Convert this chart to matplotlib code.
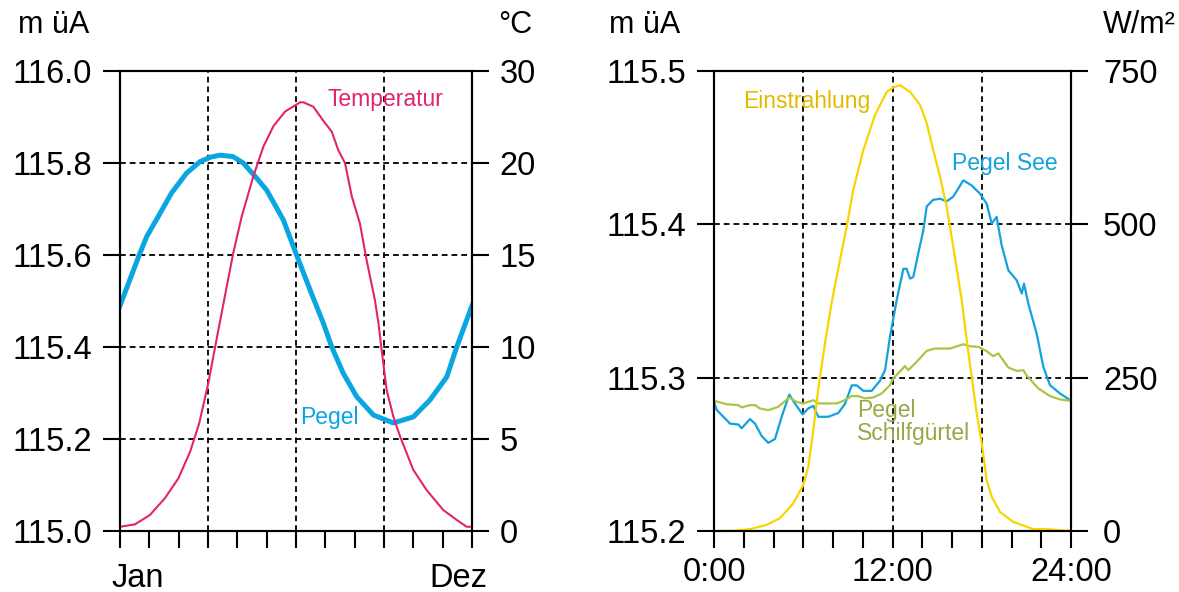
import matplotlib
matplotlib.use("Agg")
import matplotlib.pyplot as plt
from matplotlib.ticker import FixedLocator, FixedFormatter

plt.rcParams['font.family'] = ['Liberation Sans', 'DejaVu Sans']

# --- Jahresgang (links) ---
pegel_monat = [0, 0.68, 0.91, 1.36, 1.76, 2.27, 2.73, 3.1, 3.41, 3.85, 4.2, 4.66, 5.0,
               5.57, 6.02, 6.48, 6.93, 7.22, 7.61, 8.07, 8.64, 9.32, 10.0, 10.57, 11.14,
               11.48, 12]
pegel = [115.49, 115.604, 115.64, 115.69, 115.735, 115.778, 115.803, 115.813, 115.817,
         115.814, 115.80, 115.767, 115.741, 115.676, 115.60, 115.524, 115.452, 115.40,
         115.343, 115.292, 115.252, 115.235, 115.248, 115.285, 115.335, 115.40, 115.49]

temp_monat = [0, 0.51, 1.02, 1.53, 1.99, 2.39, 2.7, 3.01, 3.35, 3.58, 3.86, 4.15, 4.55,
              4.89, 5.23, 5.63, 6.14, 6.25, 6.59, 6.93, 7.22, 7.44, 7.67, 7.9, 8.18, 8.41,
              8.69, 8.81, 8.92, 9.09, 9.32, 9.55, 10.0, 10.45, 11.02, 11.48, 11.82, 12]
temperatur = [0.23, 0.36, 0.87, 1.78, 2.86, 4.31, 5.85, 8.03, 10.9, 12.8, 15.1, 17.1, 19.3,
              20.9, 22.0, 22.8, 23.3, 23.3, 23.06, 22.3, 21.7, 20.7, 20.0, 18.2, 16.7, 14.7,
              12.55, 11.3, 9.84, 7.66, 6.21, 5.13, 3.32, 2.23, 1.14, 0.6, 0.23, 0.23]

pegel_ticks = [115.0, 115.2, 115.4, 115.6, 115.8, 116.0]
temp_ticks = [0, 5, 10, 15, 20, 25]
temp_labels = ['0', '5', '10', '15', '20', '30']

# --- Tagesgang (rechts) ---
sonne_h = [0, 1.3, 2.42, 3.54, 4.44, 5.33, 6.0, 6.34, 6.68, 7.0, 7.46, 7.9, 8.47, 8.92,
           9.36, 10.04, 10.82, 11.61, 12.05, 12.5, 13.18, 13.85, 14.3, 14.74, 15.19, 15.64,
           16.08, 16.65, 16.99, 17.32, 17.66, 18.0, 18.33, 18.67, 19.23, 20.1, 21.46, 22.4, 24]
einstrahlung = [0, 0.5, 3, 10, 21, 45, 75, 105, 165, 230, 306, 371, 442, 496, 556, 621, 678,
                716, 723, 727, 716, 695, 665, 621, 578, 529, 464, 377, 311, 252, 192, 143,
                83, 56, 31, 15, 3, 3, 0]

see_h = [0, 0.18, 1.08, 1.63, 1.86, 2.42, 2.76, 3.2, 3.65, 4.1, 4.55, 5.06, 5.45, 5.96,
         6.34, 6.68, 7.01, 7.69, 8.36, 8.81, 9.26, 9.59, 10.04, 10.6, 11.16, 11.5, 11.83,
         12.28, 12.73, 12.95, 13.18, 13.4, 13.73, 14.07, 14.3, 14.74, 15.19, 15.64, 16.08,
         16.76, 17.32, 17.88, 18.33, 18.67, 19.0, 19.34, 19.79, 20.35, 20.69, 20.84, 21.13,
         21.69, 22.14, 22.59, 23.26, 24]
pegel_see = [115.284, 115.279, 115.270, 115.2695, 115.267, 115.273, 115.270, 115.262,
             115.2575, 115.260, 115.2745, 115.289, 115.283, 115.276, 115.280, 115.2816,
             115.2745, 115.2745, 115.277, 115.283, 115.295, 115.295, 115.2914, 115.2914,
             115.298, 115.305, 115.3266, 115.3505, 115.371, 115.371, 115.3646, 115.3657,
             115.381, 115.396, 115.4117, 115.416, 115.4167, 115.415, 115.418, 115.4287,
             115.4254, 115.420, 115.4135, 115.4005, 115.4048, 115.3863, 115.370, 115.3635,
             115.3549, 115.3614, 115.3483, 115.3288, 115.307, 115.2951, 115.2897, 115.285]

schilf_h = [0, 0.85, 1.63, 1.86, 2.42, 2.76, 3.09, 3.65, 4.32, 5.06, 5.56, 6.0, 6.68, 7.0,
            8.25, 8.7, 9.26, 9.7, 10.15, 10.71, 11.27, 11.83, 12.05, 12.84, 13.06, 13.62,
            14.3, 14.86, 15.87, 16.76, 17.21, 17.77, 18.33, 18.77, 19.11, 19.79, 20.35, 20.8,
            21.0, 21.8, 22.59, 23.26, 24]
pegel_schilf = [115.2849, 115.2827, 115.2821, 115.2806, 115.2821, 115.2821, 115.2799,
                115.2788, 115.281, 115.2871, 115.2842, 115.2832, 115.2853, 115.2832,
                115.2832, 115.2849, 115.288, 115.288, 115.2865, 115.2871, 115.2897,
                115.2951, 115.2995, 115.3075, 115.3049, 115.3103, 115.3175, 115.319,
                115.319, 115.3218, 115.3205, 115.3201, 115.3173, 115.314, 115.3158,
                115.3066, 115.3044, 115.3049, 115.3016, 115.293, 115.288, 115.2858, 115.2849]

see_ticks = [115.2, 115.3, 115.4, 115.5]
watt_ticks = [0, 250, 500, 750]

W, H = 1179, 592
FS = 23.5      # tick labels
UFS = 22       # unit labels
LFS = 16.5     # curve labels
dash = (0, (3.2, 2.2))

fig = plt.figure(figsize=(W / 100, H / 100), dpi=100)


def setup(ax, axr):
    for a in (ax, axr):
        for sp in a.spines.values():
            sp.set_linewidth(1.5)
    ax.tick_params(which='both', direction='out', length=12, width=1.5, labelsize=FS)
    axr.tick_params(axis='y', direction='out', length=12, width=1.5, labelsize=FS)
    ax.grid(True, which='major', color='black', linestyle=dash, linewidth=1.3)
    ax.set_axisbelow(True)


# ---------------- links ----------------
ax1 = fig.add_axes([120 / W, 1 - 531 / H, 352 / W, 460 / H])
ax1r = ax1.twinx()
setup(ax1, ax1r)

ax1.plot(pegel_monat, pegel, color='#0AA6E2', lw=3.6, solid_joinstyle='round')
ax1r.plot(temp_monat, temperatur, color='#E3236F', lw=1.5)

ax1.set_xlim(0, 12)
ax1.set_ylim(115.0, 116.0)
ax1r.set_ylim(0, 25)
ax1.xaxis.set_major_locator(FixedLocator([0, 3, 6, 9, 12]))
ax1.xaxis.set_minor_locator(FixedLocator(range(13)))
ax1.set_xticklabels([])
ax1.yaxis.set_major_locator(FixedLocator(pegel_ticks))
ax1.set_yticklabels(['%.1f' % v for v in pegel_ticks])
ax1.tick_params(axis='y', pad=8)
ax1r.yaxis.set_major_locator(FixedLocator(temp_ticks))
ax1r.yaxis.set_major_formatter(FixedFormatter(temp_labels))
ax1r.tick_params(axis='y', pad=8)

ax1.annotate('Jan', xy=(0, 0), xycoords=('data', 'axes fraction'), xytext=(-6, -40),
             textcoords='offset points', ha='left', va='baseline', fontsize=FS)
ax1.annotate('Dez', xy=(12, 0), xycoords=('data', 'axes fraction'), xytext=(11, -40),
             textcoords='offset points', ha='right', va='baseline', fontsize=FS)

ax1.text(7.09, 115.939, 'Temperatur', color='#E3236F', fontsize=LFS, va='center', ha='left')
ax1.text(6.14, 115.246, 'Pegel', color='#0AA6E2', fontsize=LFS, va='center', ha='left')

fig.text(18 / W, 1 - 25 / H, 'm üA', fontsize=UFS, va='center', ha='left')
fig.text(498 / W, 1 - 25 / H, '°C', fontsize=UFS, va='center', ha='left')

# ---------------- rechts ----------------
ax2 = fig.add_axes([714 / W, 1 - 531 / H, 357 / W, 460 / H])
ax2r = ax2.twinx()
setup(ax2, ax2r)

ax2.plot(see_h, pegel_see, color='#12A2DF', lw=1.6)
ax2.plot(schilf_h, pegel_schilf, color='#AAC447', lw=1.6)
ax2r.plot(sonne_h, einstrahlung, color='#F8D500', lw=1.6)

ax2.set_xlim(0, 24)
ax2.set_ylim(115.2, 115.5)
ax2r.set_ylim(0, 750)
ax2.xaxis.set_major_locator(FixedLocator([0, 6, 12, 18, 24]))
ax2.xaxis.set_minor_locator(FixedLocator(range(0, 25, 2)))
ax2.set_xticklabels(['0:00', '', '12:00', '', '24:00'])
ax2.tick_params(axis='x', pad=7)
ax2.yaxis.set_major_locator(FixedLocator(see_ticks))
ax2.set_yticklabels(['%.1f' % v for v in see_ticks])
ax2.tick_params(axis='y', pad=8)
ax2r.yaxis.set_major_locator(FixedLocator(watt_ticks))
ax2r.tick_params(axis='y', pad=11)

ax2.text(1.95, 115.480, 'Einstrahlung', color='#E2BA00', fontsize=LFS, va='center', ha='left')
ax2.text(16.0, 115.4397, 'Pegel See', color='#12A2DF', fontsize=LFS, va='center', ha='left')
ax2.text(9.61, 115.271, 'Pegel\nSchilfgürtel', color='#98A846', fontsize=LFS,
         va='center', ha='left', linespacing=1.0)

fig.text(609 / W, 1 - 25 / H, 'm üA', fontsize=UFS, va='center', ha='left')
fig.text(1176 / W, 1 - 25 / H, 'W/m²', fontsize=UFS, va='center', ha='right')

fig.savefig('out.png', dpi=100)
